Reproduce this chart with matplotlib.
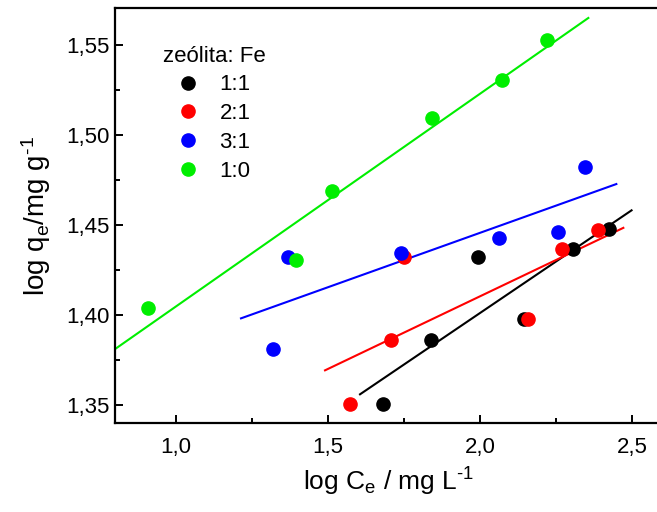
import numpy as np
import matplotlib.pyplot as plt
from matplotlib.ticker import MultipleLocator

plt.rcParams['font.family'] = ['Liberation Sans', 'DejaVu Sans']
plt.rcParams['mathtext.fontset'] = 'custom'
plt.rcParams['mathtext.rm'] = 'Liberation Sans'
plt.rcParams['mathtext.it'] = 'Liberation Sans'

# zeolite:Fe ratios
labels = ["1:1", "2:1", "3:1", "1:0"]
colors = ["black", "red", "blue", "#00ee00"]

# log Ce, log qe
x_11 = [1.679, 1.837, 1.992, 2.145, 2.305, 2.422]
y_11 = [1.3506, 1.3859, 1.4324, 1.3976, 1.4367, 1.4476]
x_21 = [1.571, 1.708, 1.751, 2.156, 2.269, 2.388]
y_21 = [1.3506, 1.3859, 1.4321, 1.3976, 1.4367, 1.4472]
x_31 = [1.319, 1.369, 1.740, 2.062, 2.254, 2.345]
y_31 = [1.3813, 1.4324, 1.4346, 1.4429, 1.4459, 1.4822]
x_10 = [0.908, 1.395, 1.513, 1.842, 2.072, 2.220]
y_10 = [1.4039, 1.4304, 1.4689, 1.5094, 1.5306, 1.5528]

# x range covered by each linear fit
fit_ranges = [(1.605, 2.497), (1.49, 2.47), (1.214, 2.447), (0.75, 2.355)]

series = [(x_11, y_11), (x_21, y_21), (x_31, y_31), (x_10, y_10)]

fig = plt.figure(figsize=(6.57, 5.12), dpi=100)
ax = fig.add_axes([0.175, 0.174, 0.834, 0.81])

for (xs, ys), lab, col, (x0, x1) in zip(series, labels, colors, fit_ranges):
    ax.plot(xs, ys, 'o', color=col, ms=9.5, label=lab, zorder=3)
    k, b = np.polyfit(xs, ys, 1)
    xf = np.array([x0, x1])
    ax.plot(xf, k * xf + b, '-', color=col, lw=1.5, zorder=2)

ax.set_xlim(0.8, 2.6)
ax.set_ylim(1.34, 1.5706)
ax.xaxis.set_major_locator(MultipleLocator(0.5))
ax.xaxis.set_minor_locator(MultipleLocator(0.25))
ax.yaxis.set_major_locator(MultipleLocator(0.05))
ax.yaxis.set_minor_locator(MultipleLocator(0.025))
ax.xaxis.set_major_formatter(lambda v, p: f"{v:.1f}".replace(".", ","))
ax.yaxis.set_major_formatter(lambda v, p: f"{v:.2f}".replace(".", ","))
ax.tick_params(which='both', direction='in', width=1.4, labelsize=16, top=False, right=False)
ax.tick_params(which='major', length=6)
ax.tick_params(which='minor', length=3.5)
ax.tick_params(axis='x', pad=10)
for s in ax.spines.values():
    s.set_linewidth(1.6)

ax.set_xlabel(r'$\mathregular{log\ C_e\ /\ mg\ L^{\text{-}1}}$', fontsize=19, labelpad=6)
ax.set_ylabel(r'$\mathregular{log\ q_e /mg\ g^{\text{-}1}}$', fontsize=20, labelpad=10)

leg = ax.legend(title="zeólita: Fe", loc='upper left', bbox_to_anchor=(0.071, 0.931),
                frameon=False, fontsize=16, title_fontsize=16, handlelength=2.3,
                handletextpad=0.25, labelspacing=0.35, borderaxespad=0)
leg._legend_box.align = "left"

fig.savefig("out.png", dpi=100)
